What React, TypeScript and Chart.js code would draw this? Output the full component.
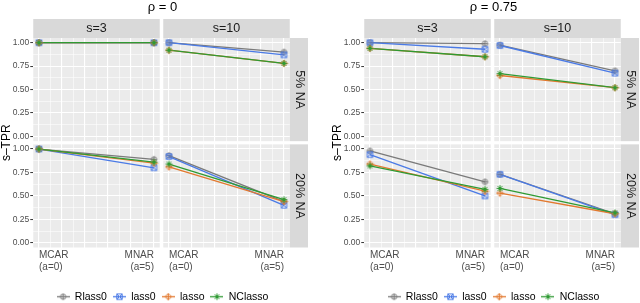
import React, { useEffect, useRef } from 'react';
import { Chart, registerables } from 'chart.js';
Chart.register(...registerables);

const FONT = "'Liberation Sans', Arial, Helvetica, sans-serif";

// ---------------- data ----------------
const methods = ['Rlass0', 'lass0', 'lasso', 'NClasso'];
const methodColors = ['#7a7a7a', '#4a7ae6', '#e2792f', '#2f9a33'];
const methodShapes = ['circlePlus', 'squareX', 'diamondPlus', 'asterisk'];
const mechanismA = [0, 5];
const mechanismLabels = [['MCAR', '(a=0)'], ['MNAR', '(a=5)']];
const sizeLabels = ['s=3', 's=10'];
const naLabels = ['5% NA', '20% NA'];
const rhoTitles = ['ρ = 0', 'ρ = 0.75'];
const yTickValues = [0, 0.25, 0.5, 0.75, 1];
const yLabel = 's–TPR';

// rows: Rlass0, lass0, lasso, NClasso ; columns: [MCAR (a=0), MNAR (a=5)]
const rho0_s3_na5 = [[1.0, 1.0], [1.0, 1.0], [1.0, 1.0], [1.0, 1.0]];
const rho0_s10_na5 = [[1.0, 0.9], [1.0, 0.87], [0.92, 0.78], [0.92, 0.78]];
const rho0_s3_na20 = [[1.0, 0.89], [1.0, 0.8], [1.0, 0.85], [1.0, 0.86]];
const rho0_s10_na20 = [[0.93, 0.44], [0.92, 0.4], [0.81, 0.44], [0.84, 0.46]];

const rho75_s3_na5 = [[1.0, 0.99], [1.0, 0.93], [0.94, 0.85], [0.94, 0.85]];
const rho75_s10_na5 = [[0.975, 0.7], [0.97, 0.675], [0.65, 0.52], [0.67, 0.52]];
const rho75_s3_na20 = [[0.98, 0.65], [0.94, 0.5], [0.84, 0.55], [0.82, 0.57]];
const rho75_s10_na20 = [[0.73, 0.31], [0.73, 0.3], [0.53, 0.31], [0.58, 0.32]];

// ---------------- layout ----------------
const W = 325;
const H = 303;
const PANEL_LEFT = 33.25;
const PANEL_RIGHT = 289.75;
const STRIP_W = 18.25;
const STRIP_H = 19;
const COL_W = 126.5;
const COL_GAP = 3.5;
const ROW_H = 103.4;
const ROW_GAP = 3.2;
const X_MIN = -0.25;
const X_MAX = 5.25;
const Y_MIN = -0.05;
const Y_MAX = 1.05;
const GAP_X = (COL_GAP * (X_MAX - X_MIN)) / COL_W;
const GAP_Y = (ROW_GAP * (Y_MAX - Y_MIN)) / ROW_H;

const xGrid = [0, 0.5, 1, 1.5, 2, 2.5, 3, 3.5, 4, 4.5, 5];
const yGrid = [0, 0.125, 0.25, 0.375, 0.5, 0.625, 0.75, 0.875, 1];

function makeSymbol(shape: string, color: string, legend: boolean): HTMLCanvasElement {
  const w = legend ? 13 : 9;
  const h = 9;
  const c = document.createElement('canvas');
  c.width = w;
  c.height = h;
  const g = c.getContext('2d')!;
  const cx = w / 2;
  const cy = h / 2;
  g.strokeStyle = color;
  if (legend) {
    g.lineWidth = 1.3;
    g.beginPath();
    g.moveTo(0, cy);
    g.lineTo(w, cy);
    g.stroke();
  }
  g.lineWidth = 1;
  g.beginPath();
  const r = 2.7;
  const d = 3.3;
  if (shape === 'circlePlus') {
    g.arc(cx, cy, r, 0, Math.PI * 2);
    g.moveTo(cx - r, cy);
    g.lineTo(cx + r, cy);
    g.moveTo(cx, cy - r);
    g.lineTo(cx, cy + r);
  } else if (shape === 'squareX') {
    g.rect(cx - r, cy - r, 2 * r, 2 * r);
    g.moveTo(cx - r, cy - r);
    g.lineTo(cx + r, cy + r);
    g.moveTo(cx + r, cy - r);
    g.lineTo(cx - r, cy + r);
  } else if (shape === 'diamondPlus') {
    g.moveTo(cx, cy - d);
    g.lineTo(cx + d, cy);
    g.lineTo(cx, cy + d);
    g.lineTo(cx - d, cy);
    g.closePath();
    g.moveTo(cx - d, cy);
    g.lineTo(cx + d, cy);
    g.moveTo(cx, cy - d);
    g.lineTo(cx, cy + d);
  } else {
    for (let k = 0; k < 4; k++) {
      const a = (k * Math.PI) / 4;
      g.moveTo(cx - d * Math.cos(a), cy - d * Math.sin(a));
      g.lineTo(cx + d * Math.cos(a), cy + d * Math.sin(a));
    }
  }
  g.stroke();
  return c;
}

const isMajorY = (v: number) => yTickValues.some((t) => Math.abs(t - v) < 1e-9);
const isMajorX = (v: number) => Math.abs(v - Math.round(v)) < 1e-9;

function buildChart(canvas: HTMLCanvasElement, rhoIndex: number) {
  const panels =
    rhoIndex === 0
      ? [
          [rho0_s3_na5, rho0_s10_na5],
          [rho0_s3_na20, rho0_s10_na20],
        ]
      : [
          [rho75_s3_na5, rho75_s10_na5],
          [rho75_s3_na20, rho75_s10_na20],
        ];

  const pointImgs = methods.map((_, m) => makeSymbol(methodShapes[m], methodColors[m], false));
  const legendImgs = methods.map((_, m) => makeSymbol(methodShapes[m], methodColors[m], true));

  const datasets: any[] = [];
  for (let r = 0; r < 2; r++) {
    for (let c = 0; c < 2; c++) {
      for (let m = 0; m < methods.length; m++) {
        const vals = panels[r][c][m];
        const data = mechanismA.map((a, i) => ({ x: a, y: vals[i] }));
        const common = {
          label: methods[m],
          data,
          xAxisID: c === 0 ? 'x1' : 'x2',
          yAxisID: r === 0 ? 'yTop' : 'yBot',
          borderColor: methodColors[m],
          backgroundColor: methodColors[m],
          fill: false,
          clip: false,
        };
        datasets.push({
          ...common,
          borderWidth: 1.3,
          pointRadius: 0,
          pointHoverRadius: 0,
          showLine: true,
          order: 10 + (methods.length - 1 - m),
        });
        datasets.push({
          ...common,
          borderWidth: 0,
          showLine: false,
          pointStyle: pointImgs[m],
          pointRadius: 4,
          pointHoverRadius: 4,
          order: methods.length - 1 - m,
        });
      }
    }
  }

  const xScale = (weight: number, stackWeight: number, max: number) => ({
    type: 'linear',
    axis: 'x',
    position: 'bottom',
    stack: 'cols',
    stackWeight,
    weight,
    min: X_MIN,
    max,
    afterBuildTicks: (s: any) => {
      s.ticks = xGrid.map((v) => ({ value: v }));
    },
    afterFit: (s: any) => {
      s.height = 38;
    },
    border: { display: false },
    grid: {
      color: '#FFFFFF',
      lineWidth: (ctx: any) => (ctx.tick && isMajorX(ctx.tick.value) ? 1.1 : 0.55),
      drawTicks: false,
    },
    ticks: {
      autoSkip: false,
      maxRotation: 0,
      minRotation: 0,
      align: 'inner',
      padding: 1.5,
      color: '#4D4D4D',
      font: { family: FONT, size: 10, lineHeight: 1.2 },
      callback: (v: number) => {
        const i = mechanismA.findIndex((a) => Math.abs(a - v) < 1e-9);
        return i >= 0 ? mechanismLabels[i] : '';
      },
    },
  });

  const yScale = (weight: number, stackWeight: number, min: number) => ({
    type: 'linear',
    axis: 'y',
    position: 'left',
    stack: 'rows',
    stackWeight,
    weight,
    min,
    max: Y_MAX,
    afterBuildTicks: (s: any) => {
      s.ticks = yGrid.map((v) => ({ value: v }));
    },
    afterFit: (s: any) => {
      s.width = PANEL_LEFT;
    },
    border: { display: false },
    grid: {
      color: '#FFFFFF',
      lineWidth: (ctx: any) => (ctx.tick && isMajorY(ctx.tick.value) ? 1.1 : 0.55),
      drawTicks: true,
      tickLength: 3,
      tickWidth: 1,
      tickColor: (ctx: any) => (ctx.tick && isMajorY(ctx.tick.value) ? '#333333' : 'rgba(0,0,0,0)'),
    },
    ticks: {
      autoSkip: false,
      padding: 1,
      color: '#4D4D4D',
      font: { family: FONT, size: 8.5 },
      callback: (v: number) => (isMajorY(v) ? v.toFixed(2) : ''),
    },
  });

  const facetPlugin = {
    id: 'facetDecor',
    beforeDraw(chart: any) {
      const ctx = chart.ctx;
      const area = chart.chartArea;
      const xs = [chart.scales.x1, chart.scales.x2];
      const ys = [chart.scales.yTop, chart.scales.yBot];
      ctx.save();
      ctx.fillStyle = '#FFFFFF';
      ctx.fillRect(0, 0, chart.width, chart.height);
      // panel backgrounds
      ctx.fillStyle = '#EBEBEB';
      for (const xs_ of xs) {
        for (const ys_ of ys) {
          const l = xs_.getPixelForValue(X_MIN);
          const r = xs_.getPixelForValue(X_MAX);
          const t = ys_.getPixelForValue(Y_MAX);
          const b = ys_.getPixelForValue(Y_MIN);
          ctx.fillRect(l, t, r - l, b - t);
        }
      }
      // strips
      ctx.fillStyle = '#D9D9D9';
      xs.forEach((xs_) => {
        const l = xs_.getPixelForValue(X_MIN);
        const r = xs_.getPixelForValue(X_MAX);
        ctx.fillRect(l, area.top - STRIP_H, r - l, STRIP_H);
      });
      ys.forEach((ys_) => {
        const t = ys_.getPixelForValue(Y_MAX);
        const b = ys_.getPixelForValue(Y_MIN);
        ctx.fillRect(area.right, t, STRIP_W, b - t);
      });
      ctx.fillStyle = '#1A1A1A';
      ctx.font = `12.5px ${FONT}`;
      ctx.textAlign = 'center';
      ctx.textBaseline = 'middle';
      xs.forEach((xs_, i) => {
        const l = xs_.getPixelForValue(X_MIN);
        const r = xs_.getPixelForValue(X_MAX);
        ctx.fillText(sizeLabels[i], (l + r) / 2, area.top - STRIP_H / 2 + 0.5);
      });
      ys.forEach((ys_, i) => {
        const t = ys_.getPixelForValue(Y_MAX);
        const b = ys_.getPixelForValue(Y_MIN);
        ctx.save();
        ctx.translate(area.right + STRIP_W / 2 + 0.5, (t + b) / 2);
        ctx.rotate(Math.PI / 2);
        ctx.fillText(naLabels[i], 0, 0);
        ctx.restore();
      });
      // y axis title
      ctx.fillStyle = '#000000';
      ctx.font = `12px ${FONT}`;
      ctx.save();
      ctx.translate(6.5, (area.top + area.bottom) / 2);
      ctx.rotate(-Math.PI / 2);
      ctx.fillText(yLabel, 0, 0);
      ctx.restore();
      ctx.restore();
    },
  };

  return new Chart(canvas, {
    type: 'line',
    data: { datasets },
    plugins: [facetPlugin],
    options: {
      animation: false,
      responsive: false,
      events: [],
      layout: { padding: { left: 0, right: 0, top: 0, bottom: -9 } },
      scales: {
        x1: xScale(1, COL_W + COL_GAP, X_MAX + GAP_X),
        x2: xScale(2, COL_W, X_MAX),
        yTop: yScale(2, ROW_H + ROW_GAP, Y_MIN - GAP_Y),
        yBot: yScale(1, ROW_H, Y_MIN),
        yStrip: {
          type: 'linear',
          axis: 'y',
          position: 'right',
          min: 0,
          max: 1,
          afterFit: (s: any) => {
            s.width = W - PANEL_RIGHT;
          },
          border: { display: false },
          grid: { display: false, drawTicks: false },
          ticks: { display: false },
        },
      } as any,
      plugins: {
        tooltip: { enabled: false },
        title: {
          display: true,
          text: rhoTitles[rhoIndex],
          color: '#000000',
          font: { family: FONT, size: 13, weight: 'normal', lineHeight: 1.1 },
          padding: { top: 0.5, bottom: 23.2 },
        },
        legend: {
          display: true,
          position: 'bottom',
          onClick: () => {},
          labels: {
            usePointStyle: true,
            pointStyleWidth: 13,
            color: '#1A1A1A',
            padding: 6,
            font: { family: FONT, size: 10.5 },
            generateLabels: () =>
              methods.map((name, m) => ({
                text: name,
                pointStyle: legendImgs[m],
                fillStyle: methodColors[m],
                strokeStyle: methodColors[m],
                lineWidth: 0,
                hidden: false,
                datasetIndex: m,
              })),
          },
        },
      },
    } as any,
  });
}

export default function App() {
  const ref0 = useRef<HTMLCanvasElement>(null);
  const ref1 = useRef<HTMLCanvasElement>(null);

  useEffect(() => {
    const charts: Chart[] = [];
    if (ref0.current) charts.push(buildChart(ref0.current, 0));
    if (ref1.current) charts.push(buildChart(ref1.current, 1));
    return () => {
      charts.forEach((c) => c.destroy());
    };
  }, []);

  return (
    <div
      style={{
        position: 'fixed',
        left: 0,
        top: 0,
        width: 640,
        height: H,
        overflow: 'hidden',
        background: '#FFFFFF',
      }}
    >
      <div style={{ position: 'absolute', left: 0, top: 0, width: W, height: H }}>
        <canvas ref={ref0} width={W} height={H} style={{ width: W, height: H, display: 'block' }} />
      </div>
      <div style={{ position: 'absolute', left: 331, top: 0, width: W, height: H }}>
        <canvas ref={ref1} width={W} height={H} style={{ width: W, height: H, display: 'block' }} />
      </div>
    </div>
  );
}
